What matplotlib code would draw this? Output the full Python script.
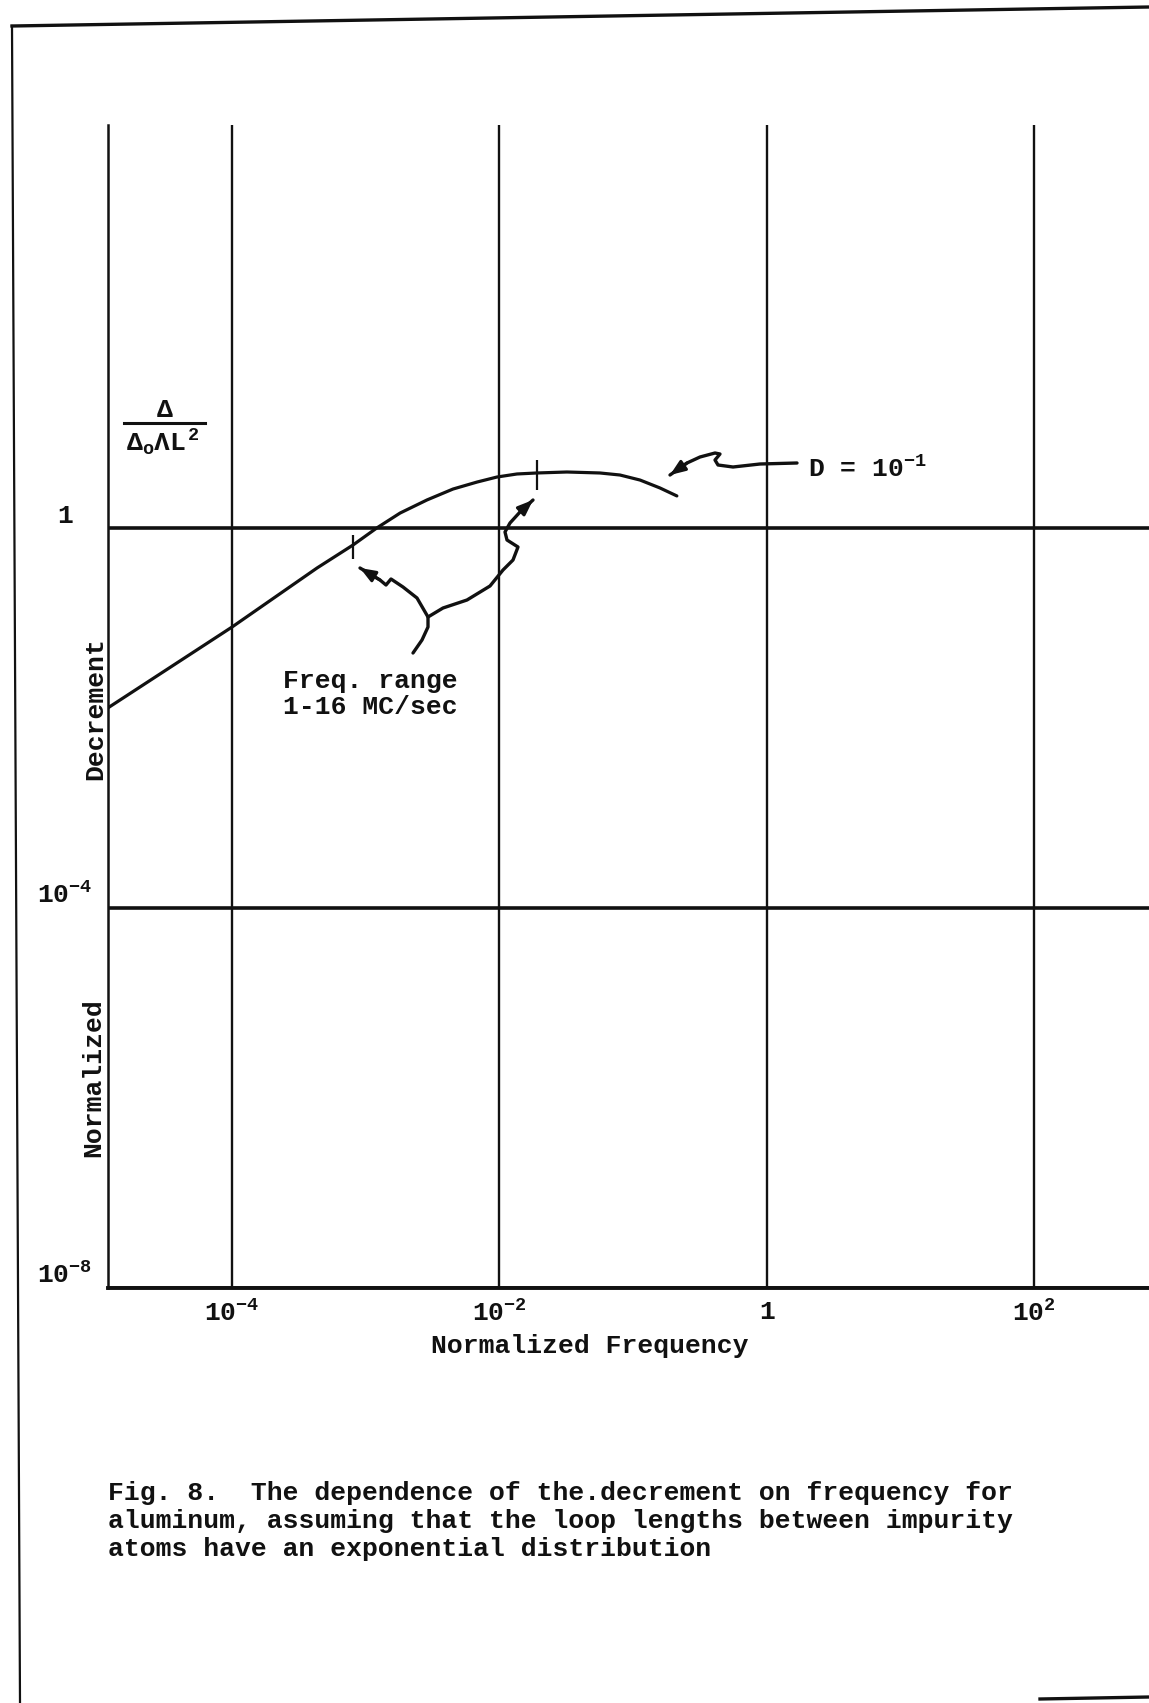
import numpy as np
import matplotlib
matplotlib.use("Agg")
import matplotlib.pyplot as plt
from matplotlib.lines import Line2D
from matplotlib.ticker import NullLocator
from matplotlib.transforms import Affine2D

# Data ----------------------------------------------------------------

# Normalized frequency and normalized decrement along the D = 10^-1 curve
freq = [1.19e-5, 1.01e-4, 4.36e-4, 8.09e-4, 1.22e-3, 1.82e-3, 2.89e-3,
        4.52e-3, 6.84e-3, 9.64e-3, 1.36e-2, 1.92e-2, 3.21e-2, 5.67e-2,
        8.0e-2, 0.113, 0.159, 0.213]
decrement = [1.26e-2, 8.97e-2, 0.375, 0.654, 0.99, 1.42, 1.95,
             2.54, 3.01, 3.40, 3.66, 3.75, 3.84, 3.75,
             3.57, 3.16, 2.61, 2.15]

# 1 and 16 MC/sec marks on the curve
mark_freq = [8.09e-4, 1.92e-2]
mark_dec = [0.631, 3.57]

xticks = [1e-4, 1e-2, 1, 1e2]
xtick_labels = [r"$10^{-4}$", r"$10^{-2}$", "1", r"$10^{2}$"]
yticks = [1e-8, 1e-4, 1]
ytick_labels = [r"$10^{-8}$", r"$10^{-4}$", "1"]

# Style ----------------------------------------------------------------

plt.rcParams["font.family"] = ["Liberation Mono", "DejaVu Sans Mono"]
plt.rcParams["font.weight"] = "bold"
plt.rcParams["mathtext.fontset"] = "custom"
plt.rcParams["mathtext.rm"] = "Liberation Mono:bold"
plt.rcParams["mathtext.it"] = "Liberation Mono:bold"
plt.rcParams["mathtext.bf"] = "Liberation Mono:bold"

W, H = 1149, 1703
fs = 19
ink = "#111111"

fig = plt.figure(figsize=(W / 100, H / 100), dpi=100)
# pixel coordinates measured from the top left of the page
px = Affine2D().scale(1 / W, -1 / H).translate(0, 1) + fig.transFigure

ax = fig.add_axes([108 / W, 1 - 1287.5 / H, 1 - 108 / W, (1287.5 - 125) / H])
ax.set_xscale("log")
ax.set_yscale("log")
ax.set_xlim(10 ** -4.923, 10 ** 2.857)
ax.set_ylim(1e-8, 10 ** 4.237)

for s in ["top", "right"]:
    ax.spines[s].set_visible(False)
ax.spines["left"].set_linewidth(1.8)
ax.spines["bottom"].set_linewidth(2.8)
ax.spines["left"].set_color(ink)
ax.spines["bottom"].set_color(ink)

ax.set_xticks(xticks, labels=xtick_labels)
ax.set_yticks(yticks, labels=ytick_labels)
ax.xaxis.set_minor_locator(NullLocator())
ax.yaxis.set_minor_locator(NullLocator())
ax.tick_params(axis="both", length=0, labelsize=fs, colors=ink)
ax.tick_params(axis="x", pad=9)
ax.tick_params(axis="y", pad=31)
for lab in ax.get_yticklabels():
    lab.set_horizontalalignment("center")
    lab.set_verticalalignment("bottom")

ax.grid(axis="x", color=ink, lw=1.7)
ax.grid(axis="y", color=ink, lw=2.6)

# Curve and range marks
ax.plot(freq, decrement, color=ink, lw=2.3, solid_capstyle="round",
        solid_joinstyle="round")
ax.plot(mark_freq[:1], mark_dec[:1], ls="none", marker="|", ms=17, mew=1.6, color=ink)
ax.plot(mark_freq[1:], mark_dec[1:], ls="none", marker="|", ms=21, mew=1.6, color=ink)

# Labels ---------------------------------------------------------------

fig.text(590 / W, 1 - 1346 / H, "Normalized Frequency", ha="center", va="center",
         fontsize=fs, color=ink)
fig.text(95 / W, 1 - 709 / H, "Decrement", rotation=90, ha="center", va="center",
         fontsize=fs, color=ink)
fig.text(93 / W, 1 - 1078 / H, "Normalized", rotation=90, ha="center", va="center",
         fontsize=fs, color=ink)

# Delta / (Delta_o Lambda L^2)
fig.text(165 / W, 1 - 410 / H, "\u0394", ha="center", va="center", fontsize=fs, color=ink)
fig.add_artist(Line2D([124, 205], [423, 423], transform=px, color=ink, lw=2.2))
fig.text(163 / W, 1 - 443 / H, r"$\Delta_{o}\Lambda L^{2}$", ha="center", va="center",
         fontsize=fs, color=ink)

fig.text(808 / W, 1 - 477 / H, r"D = $10^{-1}$", ha="left", va="baseline",
         fontsize=fs, color=ink)
fig.text(370 / W, 1 - 694 / H, "Freq. range\n1-16 MC/sec", ha="center", va="center",
         fontsize=fs, color=ink, linespacing=1.15)

caption = ("Fig. 8.  The dependence of the.decrement on frequency for\n"
           "aluminum, assuming that the loop lengths between impurity\n"
           "atoms have an exponential distribution")
fig.text(108 / W, 1 - 1521 / H, caption, ha="left", va="center", fontsize=fs,
         color=ink, linespacing=1.19)

# Hand-drawn arrows ------------------------------------------------------

def hand_arrow(pts):
    xs, ys = zip(*pts)
    fig.add_artist(Line2D(xs, ys, transform=px, color=ink, lw=2.4,
                          solid_joinstyle="round", solid_capstyle="round"))
    ax.annotate("", xy=pts[-1], xycoords=px, xytext=pts[-2], textcoords=px,
                arrowprops=dict(arrowstyle="-|>,head_length=0.9,head_width=0.35",
                                color=ink, lw=2.2, shrinkA=0, shrinkB=0),
                annotation_clip=False)

hand_arrow([(797, 463), (760, 464), (733, 467), (718, 465), (715, 460),
            (720, 454), (715, 453), (700, 457), (687, 463), (670, 475)])
hand_arrow([(413, 653), (422, 640), (428, 627), (428, 617), (417, 598),
            (403, 587), (391, 579), (386, 585), (380, 580), (360, 568)])
hand_arrow([(428, 617), (443, 608), (467, 600), (490, 586), (503, 570),
            (513, 560), (518, 547), (507, 540), (505, 532), (510, 523),
            (520, 512), (533, 500)])

# Page frame from the scan
fig.add_artist(Line2D([12, 1149], [26, 7], transform=px, color=ink, lw=2.4))
fig.add_artist(Line2D([12, 20], [26, 1703], transform=px, color=ink, lw=1.6))
fig.add_artist(Line2D([1040, 1149], [1699, 1697], transform=px, color=ink, lw=2.4))

fig.savefig("out.png", dpi=100, facecolor="white")
